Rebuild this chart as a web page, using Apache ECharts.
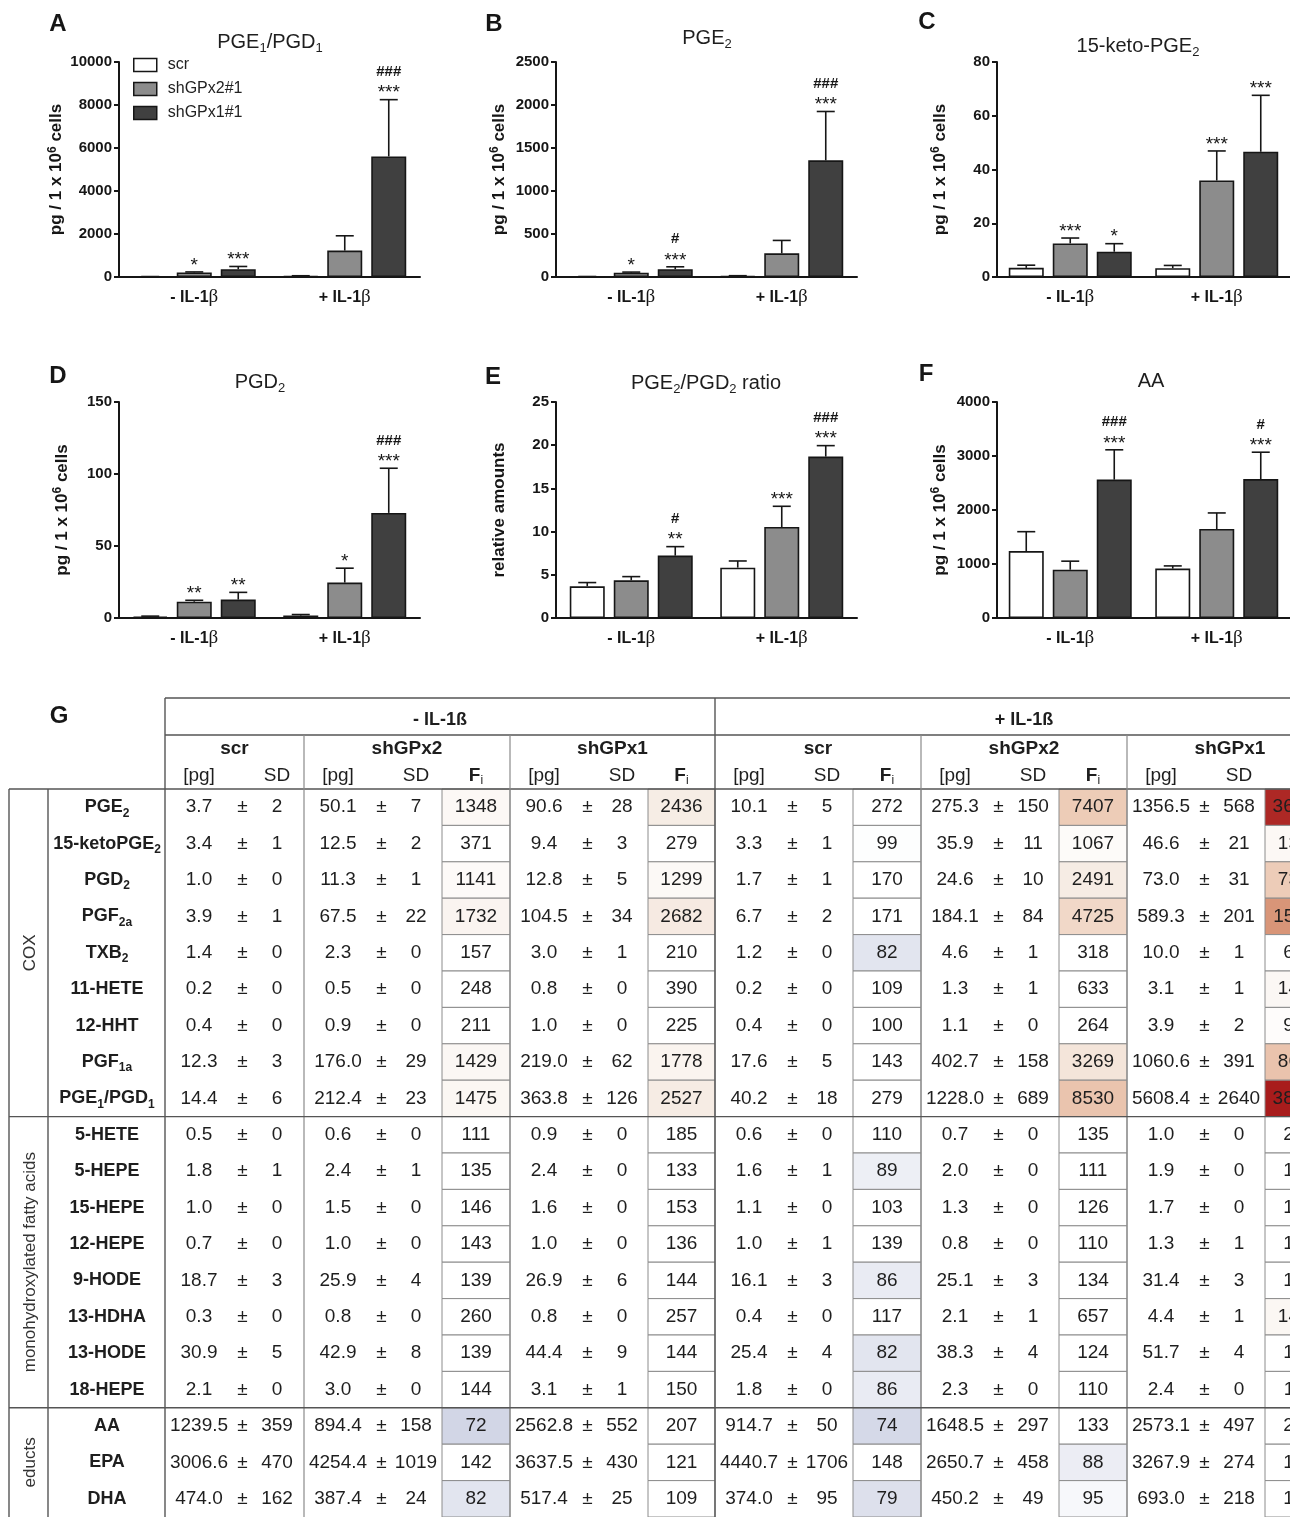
<!DOCTYPE html>
<html><head><meta charset="utf-8">
<script src="https://cdn.jsdelivr.net/npm/echarts@6/dist/echarts.min.js"></script>
<style>html,body{margin:0;padding:0;background:#fff}#c{width:1290px;height:1517px}</style>
</head><body><div id="c"></div><script>
const FONT = '"Liberation Sans", Arial, Helvetica, sans-serif';
const SERIF = '"Liberation Serif", "DejaVu Serif", serif';

// ---------------- bar panels A-F ----------------
const groups = ['- IL-1β', '+ IL-1β'];
const seriesNames = ['scr', 'shGPx2#1', 'shGPx1#1'];
// each: [scr, shGPx2, shGPx1] x [-IL, +IL]
const A_mean = [[14.4, 40.2], [212.4, 1228.0], [363.8, 5608.4]];
const A_sd   = [[6, 18], [23, 689], [126, 2640]];
const A_sig  = [['', ''], ['*', ''], ['***', '###\n***']];
const B_mean = [[3.7, 10.1], [50.1, 275.3], [90.6, 1356.5]];
const B_sd   = [[2, 5], [7, 150], [28, 568]];
const B_sig  = [['', ''], ['*', ''], ['#\n***', '###\n***']];
const C_mean = [[3.4, 3.3], [12.5, 35.9], [9.4, 46.6]];
const C_sd   = [[1, 1], [2, 11], [3, 21]];
const C_sig  = [['', ''], ['***', '***'], ['*', '***']];
const D_mean = [[1.0, 1.7], [11.3, 24.6], [12.8, 73.0]];
const D_sd   = [[0.3, 0.7], [1, 10], [5, 31]];
const D_sig  = [['', ''], ['**', '*'], ['**', '###\n***']];
const E_mean = [[3.67, 5.83], [4.36, 10.53], [7.22, 18.68]];
const E_sd   = [[0.43, 0.77], [0.43, 2.4], [1.04, 1.27]];
const E_sig  = [['', ''], ['', '***'], ['#\n**', '###\n***']];
const F_mean = [[1239.5, 914.7], [894.4, 1648.5], [2562.8, 2573.1]];
const F_sd   = [[359, 50], [158, 297], [552, 497]];
const F_sig  = [['', ''], ['', ''], ['###\n***', '#\n***']];

const A_ticks = [0, 10000, 2000], B_ticks = [0, 2500, 500], C_ticks = [0, 80, 20];
const D_ticks = [0, 150, 50], E_ticks = [0, 25, 5], F_ticks = [0, 4000, 1000];

const cellsName = 'pg / 1 x 10{sup|6} cells';

// ---------------- table G ----------------
const compounds = ['PGE2','15-ketoPGE2','PGD2','PGF2a','TXB2','11-HETE','12-HHT','PGF1a','PGE1/PGD1','5-HETE','5-HEPE','15-HEPE','12-HEPE','9-HODE','13-HDHA','13-HODE','18-HEPE','AA','EPA','DHA'];
const compoundLabels = ['PGE{s|2}','15-ketoPGE{s|2}','PGD{s|2}','PGF{s|2a}','TXB{s|2}','11-HETE','12-HHT','PGF{s|1a}','PGE{s|1}/PGD{s|1}','5-HETE','5-HEPE','15-HEPE','12-HEPE','9-HODE','13-HDHA','13-HODE','18-HEPE','AA','EPA','DHA'];
const classes = ['COX', 'monohydroxylated fatty acids', 'educts'];
const classSizes = [9, 8, 3];
const conditions = ['- IL-1ß', '+ IL-1ß'];
const genotypes = ['scr', 'shGPx2', 'shGPx1'];

const m_scr_pg  = [3.7,3.4,1.0,3.9,1.4,0.2,0.4,12.3,14.4,0.5,1.8,1.0,0.7,18.7,0.3,30.9,2.1,1239.5,3006.6,474.0];
const m_scr_sd  = [2,1,0,1,0,0,0,3,6,0,1,0,0,3,0,5,0,359,470,162];
const m_gx2_pg  = [50.1,12.5,11.3,67.5,2.3,0.5,0.9,176.0,212.4,0.6,2.4,1.5,1.0,25.9,0.8,42.9,3.0,894.4,4254.4,387.4];
const m_gx2_sd  = [7,2,1,22,0,0,0,29,23,0,1,0,0,4,0,8,0,158,1019,24];
const m_gx2_fi  = [1348,371,1141,1732,157,248,211,1429,1475,111,135,146,143,139,260,139,144,72,142,82];
const m_gx1_pg  = [90.6,9.4,12.8,104.5,3.0,0.8,1.0,219.0,363.8,0.9,2.4,1.6,1.0,26.9,0.8,44.4,3.1,2562.8,3637.5,517.4];
const m_gx1_sd  = [28,3,5,34,1,0,0,62,126,0,0,0,0,6,0,9,1,552,430,25];
const m_gx1_fi  = [2436,279,1299,2682,210,390,225,1778,2527,185,133,153,136,144,257,144,150,207,121,109];
const p_scr_pg  = [10.1,3.3,1.7,6.7,1.2,0.2,0.4,17.6,40.2,0.6,1.6,1.1,1.0,16.1,0.4,25.4,1.8,914.7,4440.7,374.0];
const p_scr_sd  = [5,1,1,2,0,0,0,5,18,0,1,0,1,3,0,4,0,50,1706,95];
const p_scr_fi  = [272,99,170,171,82,109,100,143,279,110,89,103,139,86,117,82,86,74,148,79];
const p_gx2_pg  = [275.3,35.9,24.6,184.1,4.6,1.3,1.1,402.7,1228.0,0.7,2.0,1.3,0.8,25.1,2.1,38.3,2.3,1648.5,2650.7,450.2];
const p_gx2_sd  = [150,11,10,84,1,1,0,158,689,0,0,0,0,3,1,4,0,297,458,49];
const p_gx2_fi  = [7407,1067,2491,4725,318,633,264,3269,8530,135,111,126,110,134,657,124,110,133,88,95];
const p_gx1_pg  = [1356.5,46.6,73.0,589.3,10.0,3.1,3.9,1060.6,5608.4,1.0,1.9,1.7,1.3,31.4,4.4,51.7,2.4,2573.1,3267.9,693.0];
const p_gx1_sd  = [568,21,31,201,1,1,2,391,2640,0,0,0,1,3,1,4,0,497,274,218];
const p_gx1_fi  = [36662,1371,7300,15110,690,1450,975,8623,38947,200,106,170,186,168,1467,167,114,208,109,146]; // column cut off at the edge: estimated

const tblPg = [m_scr_pg, m_gx2_pg, m_gx1_pg, p_scr_pg, p_gx2_pg, p_gx1_pg];
const tblSd = [m_scr_sd, m_gx2_sd, m_gx1_sd, p_scr_sd, p_gx2_sd, p_gx1_sd];
const tblFi = [null, m_gx2_fi, m_gx1_fi, p_scr_fi, p_gx2_fi, p_gx1_fi];

// ---------------- styles / layout ----------------
const BAR_COLORS = ['#ffffff', '#8c8c8c', '#404040'];
const BAR_W = 35, BAR_GAP = 9, CAP = 18;
const INK = '#161616';
const FI_STOPS = [[72,[210,214,230]],[100,[255,255,255]],[700,[255,255,255]],[2500,[246,236,228]],[4725,[241,216,200]],[7400,[237,204,183]],[15000,[216,150,120]],[39000,[168,28,28]]];
function fiColor(v) {
  if (v <= FI_STOPS[0][0]) return 'rgb(' + FI_STOPS[0][1].join(',') + ')';
  for (let i = 1; i < FI_STOPS.length; i++) {
    if (v <= FI_STOPS[i][0]) {
      const [a, ca] = FI_STOPS[i - 1], [b, cb] = FI_STOPS[i];
      const t = (v - a) / (b - a);
      return 'rgb(' + ca.map((c, j) => Math.round(c + (cb[j] - c) * t)).join(',') + ')';
    }
  }
  return 'rgb(' + FI_STOPS[FI_STOPS.length - 1][1].join(',') + ')';
}

const panels = [
  {L:'A', mean:A_mean, sd:A_sd, sig:A_sig, ticks:A_ticks, title:'PGE{s|1}/PGD{s|1}', yName:cellsName, left:119, top:62, height:215, tx:270, ty:42, lx:58, ly:24},
  {L:'B', mean:B_mean, sd:B_sd, sig:B_sig, ticks:B_ticks, title:'PGE{s|2}', yName:cellsName, left:556, top:62, height:215, tx:707, ty:38, lx:494, ly:24},
  {L:'C', mean:C_mean, sd:C_sd, sig:C_sig, ticks:C_ticks, title:'15-keto-PGE{s|2}', yName:cellsName, left:997, top:62, height:215, tx:1138, ty:46, lx:927, ly:22},
  {L:'D', mean:D_mean, sd:D_sd, sig:D_sig, ticks:D_ticks, title:'PGD{s|2}', yName:cellsName, left:119, top:402, height:216, tx:260, ty:382, lx:58, ly:376},
  {L:'E', mean:E_mean, sd:E_sd, sig:E_sig, ticks:E_ticks, title:'PGE{s|2}/PGD{s|2} ratio', yName:'relative amounts', left:556, top:402, height:216, tx:706, ty:383, lx:493, ly:377},
  {L:'F', mean:F_mean, sd:F_sd, sig:F_sig, ticks:F_ticks, title:'AA', yName:cellsName, left:997, top:402, height:216, tx:1151, ty:381, lx:926, ly:374}
];

const grid = [], xAxis = [], yAxis = [], series = [], graphic = [];

function makeErrRender(sig) {
  return function (params, api) {
    const c = api.value(0), m = api.value(1), s = api.value(2), k = api.value(3);
    const b = api.coord([c, m]), t = api.coord([c, m + s]);
    const x = b[0] + (k - 1) * (BAR_W + BAR_GAP);
    const ch = [];
    if (s > 0) {
      ch.push({type:'line', shape:{x1:x, y1:b[1], x2:x, y2:t[1]}, style:{stroke:INK, lineWidth:1.6}});
      ch.push({type:'line', shape:{x1:x - CAP / 2, y1:t[1], x2:x + CAP / 2, y2:t[1]}, style:{stroke:INK, lineWidth:1.6}});
    }
    const txt = sig[k][c];
    if (txt) {
      const lines = txt.split('\n').reverse();   // bottom line first
      let gc = t[1] - 11.5;                      // glyph centre of the bottom line
      lines.forEach(ln => {
        const star = ln.indexOf('*') >= 0;
        ch.push({type:'text', x:x, y: star ? gc + 5 : gc, style:{text:ln, fill:INK, fontSize: star ? 19 : 15,
          fontWeight: star ? 'normal' : 'bold',
          fontFamily:FONT, align:'center', verticalAlign:'middle', textAlign:'center', textVerticalAlign:'middle'}});
        gc -= 16;
      });
    }
    return {type:'group', children:ch};
  };
}

panels.forEach((p, i) => {
  grid.push({left:p.left, top:p.top, width:301, height:p.height});
  xAxis.push({gridIndex:i, type:'category', data:groups,
    axisLine:{lineStyle:{color:INK, width:2}}, axisTick:{show:false},
    axisLabel:{margin:11, fontSize:16, fontWeight:'bold', color:INK, fontFamily:FONT,
      formatter: v => v.slice(0, -1) + '{g|β}',
      rich:{g:{fontFamily:SERIF, fontSize:19, fontWeight:'normal', color:INK}}}});
  yAxis.push({gridIndex:i, type:'value', min:p.ticks[0], max:p.ticks[1], interval:p.ticks[2],
    axisLine:{show:true, lineStyle:{color:INK, width:2}},
    axisTick:{show:true, length:5, lineStyle:{color:INK, width:2}},
    splitLine:{show:false},
    axisLabel:{margin:7, fontSize:15, fontWeight:'bold', color:INK, fontFamily:FONT, formatter: v => String(v)},
    name:p.yName, nameLocation:'middle', nameRotate:90, nameGap:47,
    nameTextStyle:{fontSize:17, fontWeight:'bold', color:INK, fontFamily:FONT, lineHeight:20,
      rich:{sup:{fontSize:12, fontWeight:'bold', color:INK, fontFamily:FONT, verticalAlign:'top', lineHeight:10}}}});
  for (let k = 0; k < 3; k++) {
    series.push({type:'bar', name:seriesNames[k], xAxisIndex:i, yAxisIndex:i, data:p.mean[k],
      barWidth:BAR_W, barGap:(BAR_GAP / BAR_W * 100).toFixed(1) + '%',
      itemStyle:{color:BAR_COLORS[k], borderColor:INK, borderWidth:1.6}, silent:true});
  }
  const errData = [];
  for (let k = 0; k < 3; k++) for (let c = 0; c < 2; c++) errData.push([c, p.mean[k][c], p.sd[k][c], k]);
  series.push({type:'custom', xAxisIndex:i, yAxisIndex:i, data:errData, renderItem:makeErrRender(p.sig), z:5, clip:false, silent:true});
  graphic.push({type:'text', x:p.tx, y:p.ty, style:{text:p.title, fontSize:20, fontFamily:FONT, fill:'#1e1e1e', lineHeight:26,
    align:'center', verticalAlign:'middle', rich:{s:{fontSize:13, fontFamily:FONT, fill:'#1e1e1e', lineHeight:12, verticalAlign:'bottom'}}}});
  graphic.push({type:'text', x:p.lx, y:p.ly, style:{text:p.L, fontSize:24, fontWeight:'bold', fontFamily:FONT, fill:INK, align:'center', verticalAlign:'middle'}});
});
graphic.push({type:'text', x:59, y:716, style:{text:'G', fontSize:24, fontWeight:'bold', fontFamily:FONT, fill:INK, align:'center', verticalAlign:'middle'}});

// ---------------- table grid ----------------
const ROW_H = 36.47;
const W = 1290;
const T = {outerL:9, catR:48, catX:30, dataL:165, split:715, right:1333,
  gLeft:[165,304,510,715,921,1127], gRight:[304,510,715,921,1127,1333],
  pgX:34, pmX:77.5, sdX:112, fiL:138};
const TI = 6;
grid.push({left:0, top:789, width:W, height:ROW_H * compounds.length});
xAxis.push({gridIndex:TI, type:'value', min:0, max:W, show:false});
yAxis.push({gridIndex:TI, type:'category', data:compounds, inverse:true, offset:-107,
  axisLine:{show:false}, axisTick:{show:false}, splitLine:{show:false},
  axisLabel:{show:true, interval:0, margin:0, align:'center', fontSize:18, fontWeight:'bold', color:'#1e1e1e', fontFamily:FONT, lineHeight:24,
    formatter:(v, idx) => compoundLabels[idx],
    rich:{s:{fontSize:12, fontWeight:'bold', color:'#1e1e1e', fontFamily:FONT, lineHeight:10, verticalAlign:'bottom'}}}});

const TXT = {fill:'#1e1e1e', fontFamily:FONT, fontSize:19, align:'center', verticalAlign:'middle', textAlign:'center', textVerticalAlign:'middle'};
const MAIN = '#555', SOFT = '#8c8c8c';

function renderCell(params, api) {
  const g = api.value(0), r = api.value(1), pg = api.value(2), sd = api.value(3), fi = api.value(4);
  const cy = api.coord([0, r])[1];
  const h = api.size([0, 1])[1];
  const X = v => api.coord([v, r])[0];
  const L = T.gLeft[g], R = T.gRight[g];
  const ch = [];
  if (!isNaN(fi)) {
    const x1 = X(L + T.fiL), x2 = X(R);
    ch.push({type:'rect', shape:{x:x1, y:cy - h / 2, width:x2 - x1, height:h}, style:{fill:fiColor(fi), stroke:SOFT, lineWidth:1}});
    ch.push({type:'text', x:(x1 + x2) / 2, y:cy, style:Object.assign({text:String(Math.round(fi))}, TXT)});
  }
  ch.push({type:'text', x:X(L + T.pgX), y:cy, style:Object.assign({text:pg.toFixed(1)}, TXT)});
  ch.push({type:'text', x:X(L + T.pmX), y:cy, style:Object.assign({text:'±'}, TXT)});
  ch.push({type:'text', x:X(L + T.sdX), y:cy, style:Object.assign({text:String(sd)}, TXT)});
  return {type:'group', children:ch};
}
const cellData = [];
for (let g = 0; g < 6; g++) for (let r = 0; r < compounds.length; r++)
  cellData.push([g, r, tblPg[g][r], tblSd[g][r], tblFi[g] ? tblFi[g][r] : '-']);
series.push({type:'custom', xAxisIndex:TI, yAxisIndex:TI, data:cellData, renderItem:renderCell, clip:false, silent:true, z:3});

function renderFrame(params, api) {
  const h = api.size([0, 1])[1];
  const y0 = api.coord([0, 0])[1] - h / 2;
  const yEnd = y0 + compounds.length * h;
  const X = v => api.coord([v, 0])[0];
  const els = [];
  const line = (x1, y1, x2, y2, c, w) => els.push({type:'line', shape:{x1, y1, x2, y2}, style:{stroke:c || MAIN, lineWidth:w || 1.4}});
  const text = (x, y, s, extra) => els.push({type:'text', x, y, style:Object.assign({text:s}, TXT, extra || {})});
  line(X(T.dataL), y0 - 91, X(T.right), y0 - 91);
  line(X(T.dataL), y0 - 54, X(T.right), y0 - 54);
  line(X(T.outerL), y0, X(T.right), y0);
  line(X(T.outerL), y0, X(T.outerL), yEnd);
  line(X(T.catR), y0, X(T.catR), yEnd);
  line(X(T.dataL), y0 - 91, X(T.dataL), yEnd);
  line(X(T.split), y0 - 91, X(T.split), yEnd);
  T.gLeft.forEach((gl) => { if (gl !== T.dataL && gl !== T.split) line(X(gl), y0 - 54, X(gl), yEnd, '#8a8a8a', 1.2); });
  text((X(T.dataL) + X(T.split)) / 2, y0 - 69, conditions[0], {fontWeight:'bold', fontSize:18});
  text((X(T.split) + X(T.right)) / 2, y0 - 69, conditions[1], {fontWeight:'bold', fontSize:18});
  T.gLeft.forEach((gl, g) => {
    const gr = T.gRight[g];
    text((X(gl) + X(gr)) / 2, y0 - 40, genotypes[g % 3], {fontWeight:'bold', fontSize:19});
    text(X(gl + T.pgX), y0 - 13, '[pg]');
    text(X(gl + T.sdX), y0 - 13, 'SD');
    if (tblFi[g]) text((X(gl + T.fiL) + X(gr)) / 2, y0 - 13, '{f|F}{i|i}', {lineHeight:22,
      rich:{f:{fontWeight:'bold', fontSize:19, fontFamily:FONT, fill:'#1e1e1e', lineHeight:22},
            i:{fontSize:12, fontFamily:FONT, fill:'#1e1e1e', lineHeight:10, verticalAlign:'bottom'}}});
  });
  let acc = 0;
  classes.forEach((c, i) => {
    const yA = y0 + acc * h, yB = y0 + (acc + classSizes[i]) * h;
    els.push({type:'text', x:X(T.catX), y:(yA + yB) / 2, rotation:Math.PI / 2,
      style:Object.assign({text:c}, TXT, {fontSize:17, fill:'#333'})});
    acc += classSizes[i];
    if (i < classes.length - 1) line(X(T.outerL), yB, X(T.right), yB);
  });
  return {type:'group', children:els};
}
series.push({type:'custom', xAxisIndex:TI, yAxisIndex:TI, data:[[0, 0]], renderItem:renderFrame, clip:false, silent:true, z:4});

const chart = echarts.init(document.getElementById('c'), null, {renderer:'canvas', width:1290, height:1517});
chart.setOption({
  backgroundColor:'#ffffff',
  animation:false,
  textStyle:{fontFamily:FONT},
  legend:{data:seriesNames, orient:'vertical', left:133, top:57, padding:0, itemWidth:23, itemHeight:13, itemGap:8, icon:'rect',
    selectedMode:false, textStyle:{fontSize:16, color:'#222', fontFamily:FONT, padding:[0, 0, 0, 6]},
    itemStyle:{borderColor:INK, borderWidth:1.5}},
  grid, xAxis, yAxis, series, graphic
});
</script></body></html>
